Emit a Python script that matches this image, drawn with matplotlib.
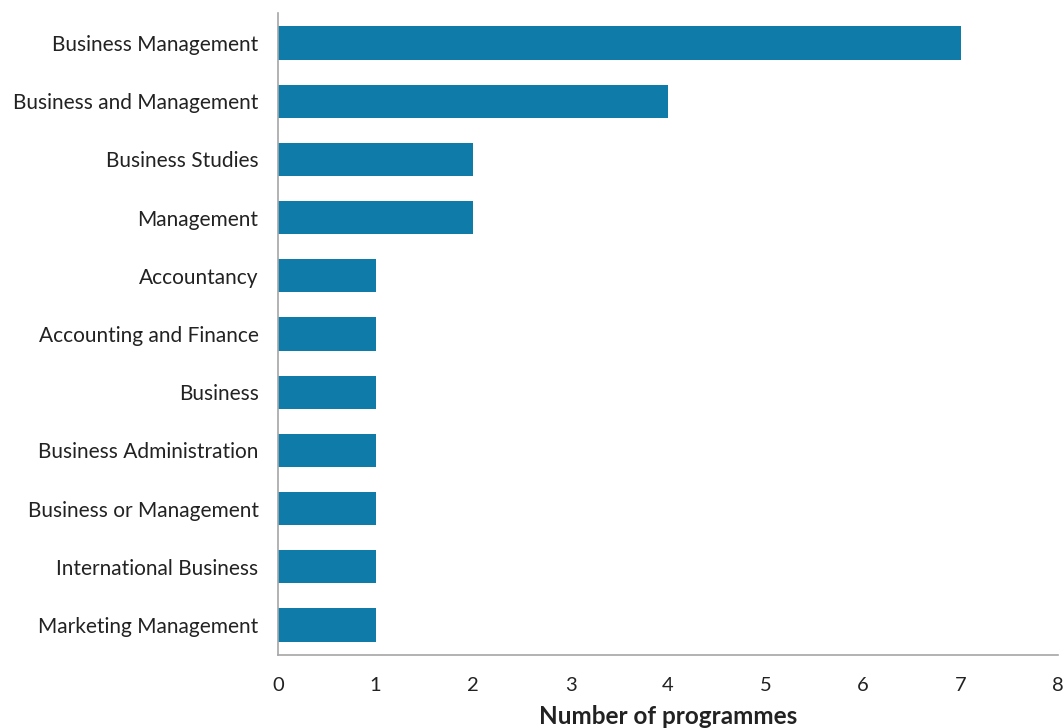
import matplotlib
matplotlib.use("Agg")
import matplotlib.pyplot as plt

# Programme titles and counts, top to bottom
programmes = [
  "Business Management",
  "Business and Management",
  "Business Studies",
  "Management",
  "Accountancy",
  "Accounting and Finance",
  "Business",
  "Business Administration",
  "Business or Management",
  "International Business",
  "Marketing Management",
]
counts = [7, 4, 2, 2, 1, 1, 1, 1, 1, 1, 1]
x_ticks = [0, 1, 2, 3, 4, 5, 6, 7, 8]

plt.rcParams["font.family"] = ["Lato", "DejaVu Sans"]

fig = plt.figure(figsize=(10.64, 7.28), dpi=100)
ax = fig.add_axes([0.2613, 0.1003, 0.7331, 0.8818])

y = list(range(len(programmes)))
ax.barh(y, counts, height=0.57, color="#0E7BA8")

ax.set_ylim(len(programmes) - 0.485, -0.515)
ax.set_xlim(0, 8)
ax.set_yticks(y)
ax.set_yticklabels(programmes, fontsize=15, color="#222222")
ax.set_xticks(x_ticks)
ax.set_xticklabels([str(t) for t in x_ticks], fontsize=14.5, color="#222222")
ax.tick_params(axis="both", length=0)
ax.tick_params(axis="y", pad=14)
ax.tick_params(axis="x", pad=16)

for side in ["top", "right"]:
  ax.spines[side].set_visible(False)
for side in ["left", "bottom"]:
  ax.spines[side].set_color("#a6a6a6")
  ax.spines[side].set_linewidth(1.2)

ax.set_xlabel("Number of programmes", fontsize=17.5, fontweight="bold",
              color="#222222", labelpad=8)

fig.savefig("out.png", dpi=100)
